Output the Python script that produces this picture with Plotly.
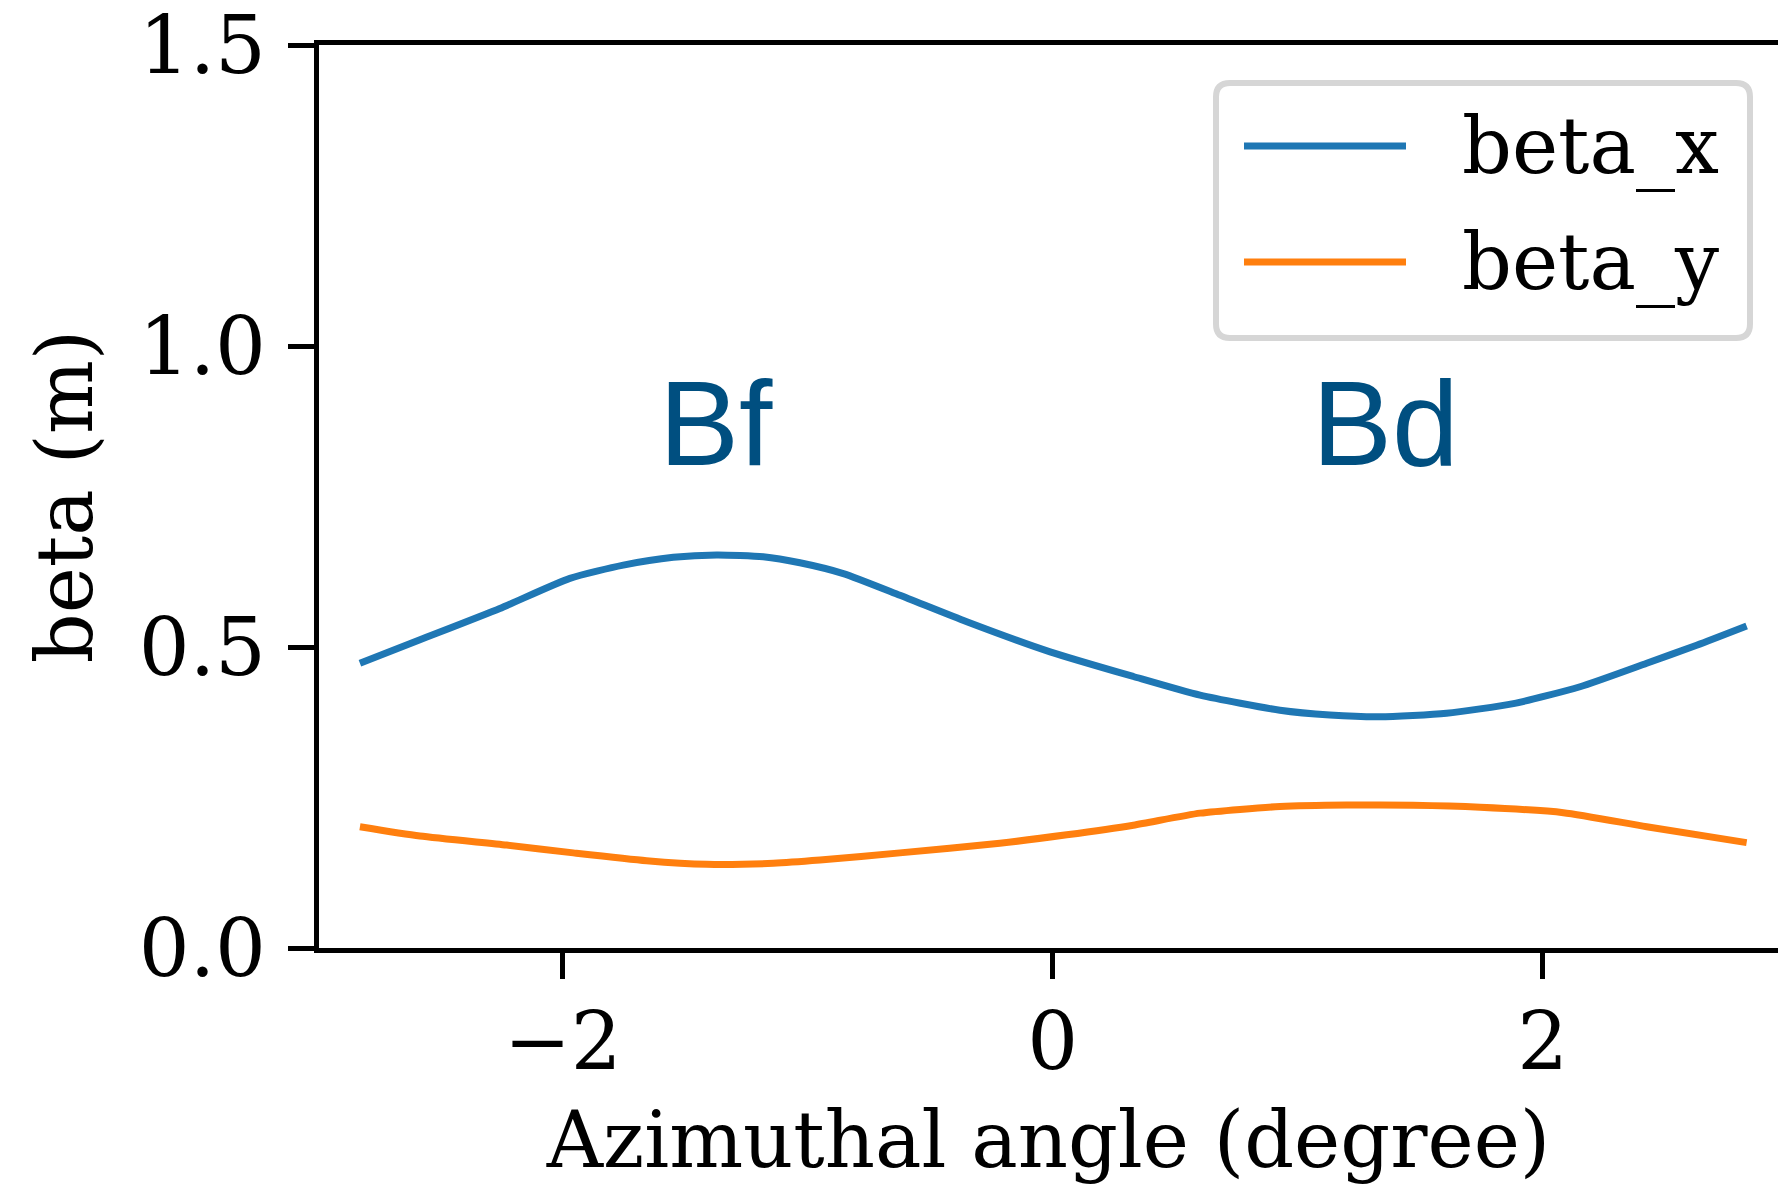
import plotly.graph_objects as go

# ---- data ----
angle_x = [-2.828, -2.583, -2.257, -1.971, -1.753, -1.549, -1.372, -1.182, -1.032,
           -0.855, -0.624, -0.351, -0.011, 0.329, 0.601, 0.927, 1.131, 1.335,
           1.607, 1.880, 2.152, 2.424, 2.628, 2.832]
beta_x = [0.473, 0.512, 0.564, 0.614, 0.636, 0.649, 0.653, 0.650, 0.640,
          0.622, 0.586, 0.542, 0.492, 0.451, 0.420, 0.395, 0.387, 0.384,
          0.390, 0.406, 0.434, 0.473, 0.503, 0.535]

angle_y = [-2.828, -2.583, -2.229, -1.957, -1.658, -1.413, -1.141, -0.950, -0.624,
           -0.216, 0.057, 0.329, 0.601, 0.927, 1.200, 1.471, 1.744, 2.084,
           2.424, 2.832]
beta_y = [0.2015, 0.186, 0.171, 0.158, 0.145, 0.139, 0.1407, 0.146, 0.158,
          0.174, 0.188, 0.204, 0.224, 0.235, 0.2375, 0.237, 0.2337, 0.2248,
          0.2015, 0.175]

series_names = ["beta_x", "beta_y"]
series_colors = ["#1f77b4", "#ff7f0e"]

x_tickvals = [-2, 0, 2]
x_ticktext = ["\u22122", "0", "2"]
y_tickvals = [0.0, 0.5, 1.0, 1.5]
y_ticktext = ["0.0", "0.5", "1.0", "1.5"]

magnet_labels = ["Bf", "Bd"]
magnet_x = [-1.375, 1.36]
magnet_y = [0.8, 0.8]

# ---- figure geometry ----
W, H = 1778, 1185
L, R, T, B = 319, 0, 45, 237
PW = W - L - R
PH = H - T - B
X_RANGE = [-2.995, 2.960]

def xp(px):
    return (px - L) / PW

def yp(py):
    return (H - B - py) / PH

SERIF = "DejaVu Serif"
FS_TICK = 80
FS_TITLE = 78
FS_LEG = 78
LW = 7

fig = go.Figure()
fig.add_trace(go.Scatter(x=angle_x, y=beta_x, mode="lines", name=series_names[0],
                         line=dict(color=series_colors[0], width=LW, shape="spline", smoothing=0.6),
                         showlegend=False))
fig.add_trace(go.Scatter(x=angle_y, y=beta_y, mode="lines", name=series_names[1],
                         line=dict(color=series_colors[1], width=LW, shape="spline", smoothing=0.6),
                         showlegend=False))

annotations = []
for lab, mx, my in zip(magnet_labels, magnet_x, magnet_y):
    annotations.append(dict(x=mx, y=my, xref="x", yref="y", text=lab, showarrow=False,
                            xanchor="center", yanchor="bottom", yshift=-26,
                            font=dict(family="Liberation Sans", size=120, color="#004f80")))

# ---- legend drawn as a framed box ----
bx0, bx1, by0, by1 = 1216, 1750, 83, 338
r = 14
path = (f"M {xp(bx0 + r)},{yp(by0)} L {xp(bx1 - r)},{yp(by0)} "
        f"Q {xp(bx1)},{yp(by0)} {xp(bx1)},{yp(by0 + r)} "
        f"L {xp(bx1)},{yp(by1 - r)} Q {xp(bx1)},{yp(by1)} {xp(bx1 - r)},{yp(by1)} "
        f"L {xp(bx0 + r)},{yp(by1)} Q {xp(bx0)},{yp(by1)} {xp(bx0)},{yp(by1 - r)} "
        f"L {xp(bx0)},{yp(by0 + r)} Q {xp(bx0)},{yp(by0)} {xp(bx0 + r)},{yp(by0)} Z")
shapes = [dict(type="path", path=path, xref="paper", yref="paper",
               line=dict(color="#d6d6d6", width=6), fillcolor="rgba(255,255,255,0.8)",
               layer="above")]
leg_rows = [146, 262]
for name, col, ry in zip(series_names, series_colors, leg_rows):
    shapes.append(dict(type="line", xref="paper", yref="paper",
                       x0=xp(1244), x1=xp(1406), y0=yp(ry), y1=yp(ry),
                       line=dict(color=col, width=LW), layer="above"))
    annotations.append(dict(x=xp(1460), y=yp(ry), xref="paper", yref="paper", text=name,
                            showarrow=False, xanchor="left", yanchor="middle",
                            font=dict(family=SERIF, size=FS_LEG, color="black")))

fig.update_layout(
    width=W, height=H, autosize=False,
    margin=dict(l=L, r=R, t=T, b=B, pad=0),
    paper_bgcolor="white", plot_bgcolor="white",
    font=dict(family=SERIF, size=FS_TICK, color="black"),
    shapes=shapes, annotations=annotations, showlegend=False,
)
fig.update_xaxes(
    range=X_RANGE, tickmode="array", tickvals=x_tickvals, ticktext=x_ticktext,
    showgrid=False, zeroline=False, showline=True, linewidth=5, linecolor="black",
    mirror=True, ticks="outside", ticklen=26, tickwidth=5, tickcolor="black",
    ticklabelstandoff=-6, ticklabeloverflow="allow",
    tickfont=dict(family=SERIF, size=FS_TICK, color="black"),
    title=dict(text="Azimuthal angle (degree)", font=dict(family=SERIF, size=FS_TITLE, color="black"),
               standoff=28),
)
fig.update_yaxes(
    range=[0, 1.5], tickmode="array", tickvals=y_tickvals, ticktext=y_ticktext,
    showgrid=False, zeroline=False, showline=True, linewidth=5, linecolor="black",
    ticks="outside", ticklen=26, tickwidth=5, tickcolor="black",
    ticklabelstandoff=6, ticklabeloverflow="allow",
    tickfont=dict(family=SERIF, size=FS_TICK, color="black"),
    title=dict(text="beta (m)", font=dict(family=SERIF, size=FS_TITLE, color="black"),
               standoff=22),
)

fig.write_html("out.html")
